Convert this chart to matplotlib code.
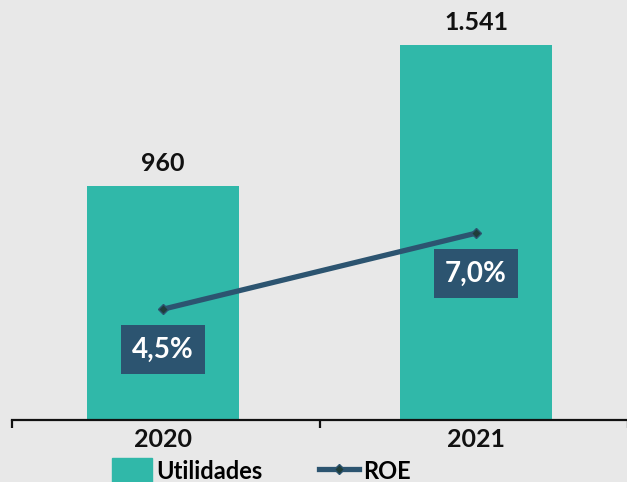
import matplotlib.pyplot as plt
from matplotlib.lines import Line2D
from matplotlib.patches import Patch

# data
years = ["2020", "2021"]
utilidades = [960, 1541]
utilidades_labels = ["960", "1.541"]
roe = [4.5, 7.0]
roe_labels = ["4,5%", "7,0%"]

bg = "#e8e8e8"
teal = "#30b8a9"
navy = "#2c5470"

plt.rcParams['font.family'] = ['Lato', 'DejaVu Sans']

fig = plt.figure(figsize=(6.27, 4.82), dpi=100, facecolor=bg)
ax = fig.add_axes([12 / 627, (482 - 420) / 482, 616 / 627, 420 / 482])
ax.set_facecolor(bg)

x = list(range(len(years)))
ax.bar(x, utilidades, width=0.486, color=teal, zorder=2)
for xi, v, lab in zip(x, utilidades, utilidades_labels):
    ax.annotate(lab, (xi, v), xytext=(0, 16), textcoords="offset points",
                ha="center", va="center", fontsize=18, fontweight="bold",
                color="#111111")

ax.set_xlim(-0.4824, 1.4856)
ax.set_ylim(0, 1724)
ax.set_yticks([])
for s in ["top", "right", "left"]:
    ax.spines[s].set_visible(False)
ax.spines["bottom"].set_linewidth(1.6)
ax.spines["bottom"].set_color("#111111")
ax.set_xticks(x)
ax.set_xticklabels(years, fontsize=18, fontweight="bold", color="#111111")
ax.tick_params(axis="x", which="major", length=0, pad=6)
ax.set_xticks([-0.4824, 0.5016, 1.4856], minor=True)
ax.tick_params(axis="x", which="minor", length=6, width=1.6, color="#111111")

ax2 = ax.twinx()
ax2.set_ylim(0.855, 14.67)
ax2.axis("off")
ax2.plot(x, roe, color=navy, linewidth=3.8, marker="D",
         markersize=5, markerfacecolor="#1f3d3a", markeredgecolor=navy,
         zorder=3)
for xi, v, lab in zip(x, roe, roe_labels):
    ax2.annotate(lab, (xi, v), xytext=(0, -29), textcoords="offset points",
                 ha="center", va="center", fontsize=20, fontweight="bold",
                 color="white",
                 bbox=dict(boxstyle="square,pad=0.4", fc=navy, ec="none"))

handles = [Patch(color=teal, label="Utilidades"),
           Line2D([0], [0], color=navy, linewidth=3.8, marker="D",
                  markersize=5, markerfacecolor="#1f3d3a",
                  markeredgecolor=navy, label="ROE")]
fig.legend(handles=handles, loc="center", bbox_to_anchor=(0.417, 11 / 482),
           ncol=2, frameon=False, prop={"size": 17, "weight": "bold"},
           handlelength=1.7, handletextpad=0.17, columnspacing=2.4,
           handleheight=1.3)

fig.savefig("out.png", dpi=100, facecolor=bg)
